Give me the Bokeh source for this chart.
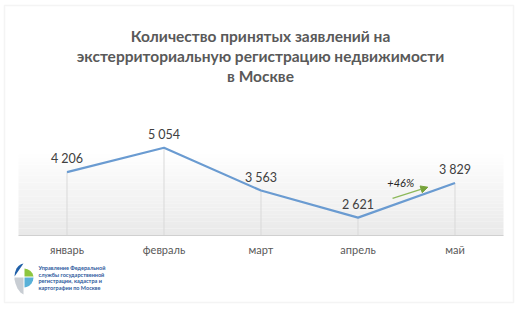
from bokeh.plotting import figure
from bokeh.models import (ColumnDataSource, Label, LabelSet, BoxAnnotation, Arrow,
                          NormalHead, FixedTicker, Range1d, PolyAnnotation, LinearAxis)
from bokeh.core.properties import value
from bokeh.embed import file_html
from bokeh.resources import INLINE

months = ["январь", "февраль", "март", "апрель", "май"]
values = [4206, 5054, 3563, 2621, 3829]
title_lines = ["Количество принятых заявлений на",
               "экстерриториальную регистрацию недвижимости",
               "в Москве"]
logo_lines = ["Управление Федеральной", "службы государственной",
              "регистрации, кадастра и", "картографии по Москве"]

Y0, Y1 = 2000, 6000          # value axis of the chart area
W, H = 521, 312
AL, AR, AT, AB = 18, 503, 120, 235   # chart area in canvas pixels
kx = (AR - AL) / len(months)
ky = (AB - AT) / (Y1 - Y0)
xr = Range1d(-0.5 - AL / kx, len(months) - 0.5 + (W - AR) / kx)
yr = Range1d(Y0 - (H - AB) / ky, Y1 + AT / ky)

xs = list(range(len(months)))
labels = [f"{v:,}".replace(",", " ") for v in values]
growth = round((values[4] - values[3]) / values[3] * 100)

FONT = "Lato"


def sx(X):
    return X


def sy(Y):
    return H - Y


p = figure(width=W, height=H, output_backend="svg", toolbar_location=None,
           x_range=xr, y_range=yr, x_axis_location=None, y_axis_location=None,
           min_border=0, outline_line_color=None,
           background_fill_color="white", border_fill_color="white")
p.grid.visible = False

# gradient background of the chart area
n = 24
gtop = 4950
for i in range(n):
    b = Y0 + (gtop - Y0) * i / n
    t = Y0 + (gtop - Y0) * (i + 1) / n
    f = 1 - (i + 0.5) / n
    c = int(round(255 - (255 - 233) * f))
    p.add_layout(BoxAnnotation(bottom=b, top=t, left=-0.5, right=len(months) - 0.5,
                               fill_color=f"#{c:02x}{c:02x}{c:02x}",
                               fill_alpha=1, line_color=None, level="underlay"))

src = ColumnDataSource(dict(x=xs, y=values, y0=[Y0] * len(xs), lab=labels))
p.segment(x0="x", y0="y0", x1="x", y1="y", source=src, line_color="#d9d9d9", line_width=1)
p.line(x="x", y="y", source=src, line_color="#6a9bd1", line_width=2.2)
p.add_layout(LabelSet(x="x", y="y", text="lab", source=src, text_align="center",
                      text_baseline="bottom", y_offset=6, text_font=value(FONT),
                      text_font_size=value("12.5px"), text_color="#404040"))

ax = LinearAxis(fixed_location=Y0, ticker=FixedTicker(ticks=xs),
                major_label_overrides={i: m for i, m in enumerate(months)},
                major_tick_line_color=None, minor_tick_line_color=None,
                axis_line_color="#d0d0d0", major_label_text_font=FONT,
                major_label_text_font_size="11px", major_label_text_color="#595959",
                major_label_standoff=1, bounds=(-0.5, len(months) - 0.5))
p.add_layout(ax, "below")

# growth annotation
p.add_layout(Arrow(end=NormalHead(size=7, fill_color="#77a33a", line_color="#77a33a"),
                   x_start=3.356, y_start=3290, x_end=3.72, y_end=3680,
                   line_color="#8cb85a", line_width=1.3))
p.add_layout(Label(x=3.44, y=3843, text=f"+{growth}%", text_align="center",
                   text_baseline="middle", text_font=FONT, text_font_style="italic",
                   text_font_size="11px", text_color="#262626"))

# title
for i, t in enumerate(title_lines):
    p.add_layout(Label(x=sx(260), y=sy(35 + 20 * i), x_units="screen", y_units="screen",
                       text=t, text_align="center", text_baseline="middle",
                       text_font=FONT, text_font_style="bold", text_font_size="15.5px",
                       text_color="#595959"))

# outer border
p.add_layout(BoxAnnotation(left=sx(4), right=sx(513), top=sy(5), bottom=sy(302),
                           left_units="screen", right_units="screen",
                           top_units="screen", bottom_units="screen",
                           fill_alpha=0, line_color="#d9d9d9", line_width=1.5))

# logo
logo_parts = [
    ([23, 14, 14.5, 16, 18, 20.5, 23], [263, 276, 272, 268, 265.5, 263.8, 263], "#1f5fa8"),
    ([24, 24, 27, 30, 32, 33, 33], [276, 268, 268.8, 270.5, 273, 276, 276], "#8dc63f"),
    ([24, 33, 32.5, 31, 28.5, 26, 24], [277, 277, 280, 283, 285.5, 286.5, 287], "#59b1d8"),
    ([14, 23, 23, 20, 17, 15, 14], [277, 277, 294, 292, 288, 283, 279], "#c8cdd3"),
]
for lx, ly, col in logo_parts:
    p.add_layout(PolyAnnotation(xs=[sx(v) for v in lx], ys=[sy(v) for v in ly],
                                xs_units="screen", ys_units="screen",
                                fill_color=col, fill_alpha=1, line_color=None))
for i, t in enumerate(logo_lines):
    p.add_layout(Label(x=sx(38), y=sy(267.5 + 6.5 * i), x_units="screen", y_units="screen",
                       text=t, text_baseline="middle", text_font=FONT,
                       text_font_style="bold", text_font_size="5.5px", text_color="#2e5a9c"))

open("out.html", "w").write(file_html(p, INLINE))
